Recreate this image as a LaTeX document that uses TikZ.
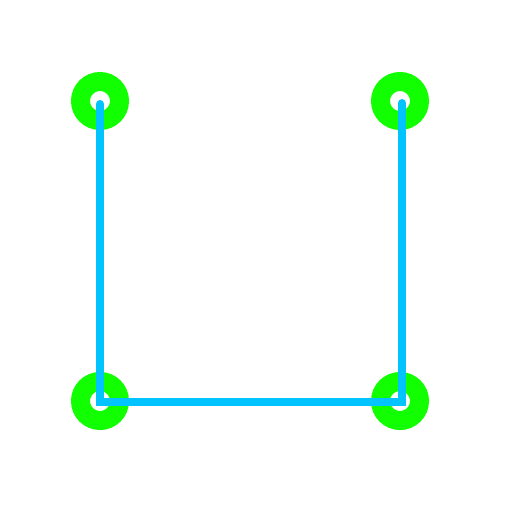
\documentclass[tikz,border=0pt]{standalone}
\usepackage{xcolor}
\usepackage{tikz}

\definecolor{ringgreen}{RGB}{17,255,0}
\definecolor{wireblue}{RGB}{0,195,255}

\begin{document}
\begin{tikzpicture}[x=1pt,y=-1pt]

    \useasboundingbox[fill=white] (0,0) rectangle (512,512);

    \foreach \n/\x/\y in {tl/100/101, tr/400/101, bl/100/401, br/400/401}{
        \node[circle, draw=ringgreen, line width=19pt, minimum size=39pt, inner sep=0pt] (\n) at (\x,\y) {};
    }

    \draw[wireblue, line width=8pt, line cap=round, line join=miter]
        ([yshift=-3pt]tl.center) -- ([yshift=-1pt]bl.center) -- ([xshift=2pt,yshift=-1pt]br.center) -- ([xshift=2pt,yshift=-2pt]tr.center);

\end{tikzpicture}
\end{document}
